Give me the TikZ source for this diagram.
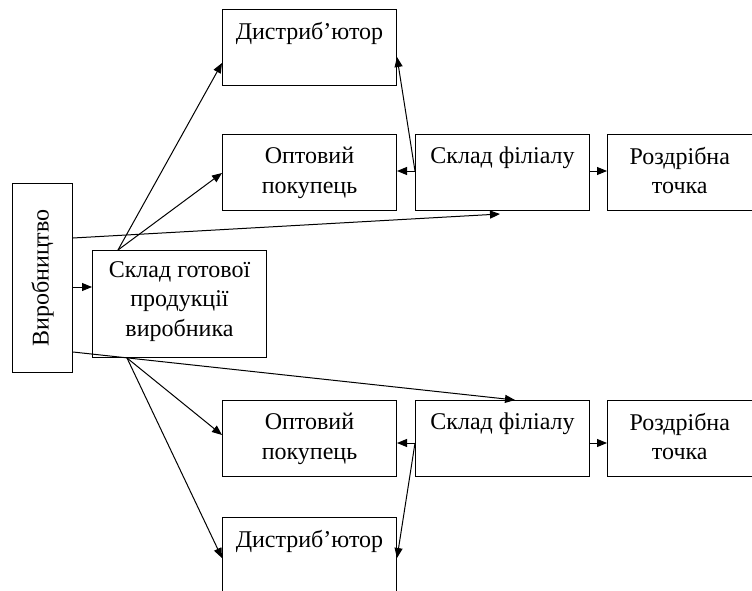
\documentclass[tikz,border=0pt]{standalone}
\usepackage{fontspec}
\setmainfont{Liberation Serif}
\usetikzlibrary{arrows.meta}
\begin{document}
\begin{tikzpicture}[x=1pt,y=-1pt,
  box/.style={draw, line width=1pt, inner sep=0pt, anchor=north west},
  wide/.style={box, minimum width=174pt, minimum height=76pt},
  txt/.style={inner sep=0pt, font=\fontsize{24}{29.5}\selectfont},
  lbl/.style={txt, anchor=north, align=center, yshift=-13pt},
  arr/.style={line width=1pt, -{Triangle[length=10pt,width=8pt]}}]
\useasboundingbox (0,0) rectangle (752,591);
\node[wide, label={[lbl]north:Дистриб’ютор}] (dt) at (222,9) {};
\node[wide, label={[lbl]north:Оптовий\\покупець}] (ot) at (222,134) {};
\node[wide, label={[lbl]north:Склад філіалу}] (st) at (415,134) {};
\node[box, minimum width=144.5pt, minimum height=76pt, label={[lbl]north:Роздрібна\\точка}] (rt) at (607,134) {};
\node[box, minimum width=60pt, minimum height=189pt, label={[txt, rotate=90, anchor=center]center:Виробництво}] (vy) at (12,183) {};
\node[box, minimum width=174pt, minimum height=107pt, label={[lbl, yshift=2pt]north:Склад готової\\продукції\\виробника}] (sg) at (92,250) {};
\node[wide, label={[lbl]north:Оптовий\\покупець}] (ob) at (222,400) {};
\node[wide, label={[lbl]north:Склад філіалу}] (sb) at (415,400) {};
\node[box, minimum width=144.5pt, minimum height=76pt, label={[lbl]north:Роздрібна\\точка}] (rb) at (607,400) {};
\node[box, minimum width=174pt, minimum height=80pt, label={[lbl]north:Дистриб’ютор}] (db) at (222,517) {};

\coordinate (a1) at ([yshift=-104pt]vy.north east);
\draw[arr] (a1) -- (a1 -| sg.west);
\coordinate (sgt) at ([xshift=26pt]sg.north west);
\draw[arr] (sgt) -- ([yshift=-54pt]dt.north west);
\draw[arr] (sgt) -- ([yshift=-39pt]ot.north west);
\coordinate (e1) at ([xshift=85pt,yshift=-3pt]st.south west);
\draw[arr] ([yshift=-55pt]vy.north east) -- (e1);
\coordinate (stl) at ([yshift=-37pt]st.north west);
\draw[arr] (stl) -- (stl -| ot.east);
\draw[arr] (stl) -- ([yshift=-48pt]dt.north east);
\draw[arr] (stl -| st.east) -- (stl -| rt.west);
\draw[arr] ([yshift=-169pt]vy.north east) -- ([xshift=100pt]sb.north west);
\coordinate (sgb) at ([xshift=35pt]sg.south west);
\draw[arr] (sgb) -- ([yshift=-35pt]ob.north west);
\draw[arr] (sgb) -- ([yshift=-41pt]db.north west);
\coordinate (sbl) at ([yshift=-43pt]sb.north west);
\draw[arr] (sbl) -- (sbl -| ob.east);
\draw[arr] (sbl) -- ([yshift=-41pt]db.north east);
\draw[arr] (sbl -| sb.east) -- (sbl -| rb.west);
\end{tikzpicture}
\end{document}
